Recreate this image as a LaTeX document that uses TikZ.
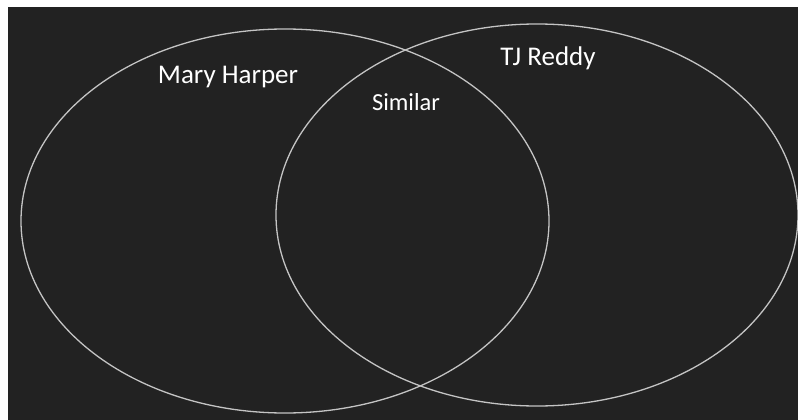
\documentclass[tikz,border=0pt]{standalone}
\usepackage{fontspec}
\setmainfont{Carlito}
\usepackage{tikz}
\usetikzlibrary{positioning}
\definecolor{slate}{HTML}{222222}
\definecolor{ringline}{HTML}{C4C4C4}
\tikzset{
  ring/.style={draw=ringline, line width=1.3pt},
  setname/.style={text=white, font=\fontsize{27}{32}\selectfont, inner sep=0pt},
  midname/.style={text=white, font=\fontsize{24.5}{29}\selectfont, inner sep=0pt}
}
\begin{document}
\begin{tikzpicture}[x=1pt,y=-1pt]
  \useasboundingbox (0,0) rectangle (798,420);
  \fill[white] (0,0) rectangle (798,420);
  \fill[slate] (8,7) rectangle (798,420);
  % the two sets
  \draw[ring] (285,221) ellipse [x radius=264, y radius=192];
  \draw[ring] (537,215) ellipse [x radius=261, y radius=191];
  \node[setname] (mary) at (228,77) {Mary Harper};
  \node[setname] (tj) at (548,58) {TJ Reddy};
  \node[midname] (both) at (406,102) {Similar};
\end{tikzpicture}
\end{document}
